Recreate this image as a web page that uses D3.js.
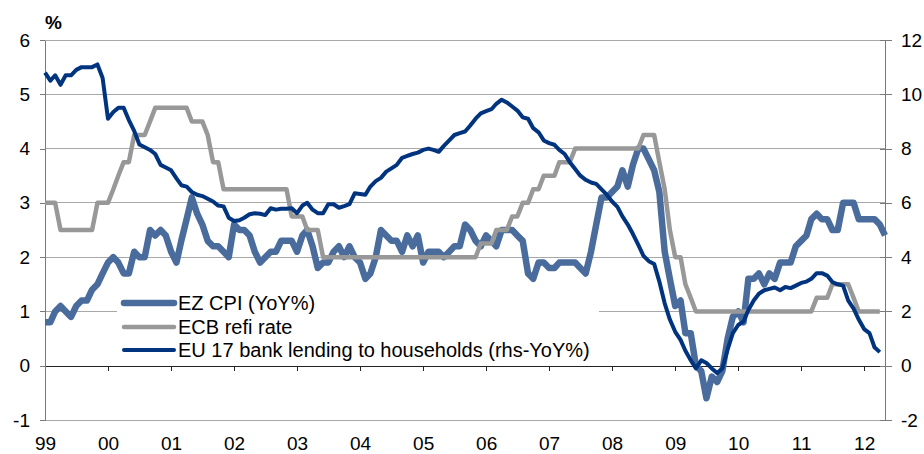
<!DOCTYPE html>
<html><head><meta charset="utf-8">
<script src="https://cdn.jsdelivr.net/npm/d3@7"></script>
<style>body{margin:0;background:#fff}svg{display:block;font-family:Arial,"Liberation Sans",sans-serif}</style>
</head><body><svg id="c" width="924" height="454"></svg>
<script>
// Monthly data, Jan 1999 onwards
const cpi = [
0.8,0.8,1.0,1.1,1.0,0.9,1.1,1.2,1.2,1.4,1.5,1.7,
1.9,2.0,1.9,1.7,1.7,2.1,2.0,2.0,2.5,2.4,2.5,2.4,
2.1,1.9,2.3,2.7,3.1,2.8,2.6,2.3,2.2,2.2,2.1,2.0,
2.6,2.5,2.5,2.4,2.1,1.9,2.0,2.1,2.1,2.3,2.3,2.3,
2.1,2.4,2.5,2.2,1.8,1.9,1.9,2.1,2.2,2.0,2.2,2.0,
1.9,1.6,1.7,2.0,2.5,2.4,2.3,2.3,2.1,2.4,2.2,2.4,
1.9,2.1,2.1,2.1,2.0,2.1,2.2,2.2,2.6,2.5,2.3,2.2,
2.4,2.3,2.2,2.5,2.5,2.5,2.4,2.3,1.7,1.6,1.9,1.9,
1.8,1.8,1.9,1.9,1.9,1.9,1.8,1.7,2.1,2.6,3.1,3.1,
3.2,3.3,3.6,3.3,3.7,4.0,4.0,3.8,3.6,3.2,2.1,1.6,
1.1,1.2,0.6,0.6,0.0,-0.1,-0.6,-0.2,-0.3,-0.1,0.5,0.9,
1.0,0.8,1.6,1.6,1.7,1.5,1.7,1.6,1.9,1.9,1.9,2.2,
2.3,2.4,2.7,2.8,2.7,2.7,2.5,2.5,3.0,3.0,3.0,2.7,
2.7,2.7,2.7,2.6,2.4];
const refi = [
3,3,3,2.5,2.5,2.5,2.5,2.5,2.5,2.5,3,3,
3,3.25,3.5,3.75,3.75,4.25,4.25,4.25,4.5,4.75,4.75,4.75,
4.75,4.75,4.75,4.75,4.5,4.5,4.5,4.25,3.75,3.75,3.25,3.25,
3.25,3.25,3.25,3.25,3.25,3.25,3.25,3.25,3.25,3.25,3.25,2.75,
2.75,2.75,2.5,2.5,2.5,2,2,2,2,2,2,2,
2,2,2,2,2,2,2,2,2,2,2,2,
2,2,2,2,2,2,2,2,2,2,2,2.25,
2.25,2.25,2.5,2.5,2.5,2.75,2.75,3,3,3.25,3.25,3.5,
3.5,3.5,3.75,3.75,3.75,4,4,4,4,4,4,4,
4,4,4,4,4,4,4.25,4.25,4.25,3.75,3.25,2.5,
2,2,1.5,1.25,1,1,1,1,1,1,1,1,
1,1,1,1,1,1,1,1,1,1,1,1,
1,1,1,1.25,1.25,1.25,1.5,1.5,1.5,1.5,1.25,1,
1,1,1,1];
const lending = [
10.8,10.5,10.7,10.35,10.7,10.7,10.9,11.0,11.0,11.0,11.1,10.6,
9.1,9.35,9.5,9.5,9.05,8.65,8.15,8.05,7.95,7.8,7.4,7.3,
7.2,6.9,6.65,6.6,6.4,6.3,6.25,6.15,6.05,5.9,5.87,5.45,
5.33,5.36,5.45,5.58,5.62,5.6,5.55,5.8,5.75,5.78,5.78,5.8,
5.62,5.9,6.0,5.75,5.62,5.62,5.95,5.95,5.82,5.88,5.95,6.35,
6.33,6.3,6.6,6.8,6.92,7.15,7.27,7.4,7.66,7.73,7.8,7.85,
7.95,8.0,7.95,7.88,8.1,8.3,8.5,8.57,8.63,8.85,9.1,9.3,
9.38,9.45,9.65,9.8,9.7,9.55,9.4,9.15,9.1,8.75,8.6,8.3,
8.2,8.14,7.95,7.8,7.5,7.25,7.0,6.85,6.75,6.7,6.5,6.3,
6.05,5.85,5.5,5.2,4.85,4.45,4.05,3.85,3.75,3.1,2.3,1.7,
1.25,0.95,0.55,0.2,-0.1,0.2,0.1,-0.1,-0.27,-0.1,0.6,1.2,
1.5,1.63,2.05,2.4,2.65,2.78,2.83,2.88,2.78,2.9,2.86,2.95,
3.05,3.1,3.2,3.41,3.41,3.32,3.08,3.0,2.95,2.4,2.1,1.7,
1.35,1.2,0.68,0.5];
const leftTicks = [-1,0,1,2,3,4,5,6];
const rightTicks = [-2,0,2,4,6,8,10,12];
const yearLabels = ["99","00","01","02","03","04","05","06","07","08","09","10","11","12"];
const seriesNames = ["EZ CPI (YoY%)","ECB refi rate","EU 17 bank lending to households (rhs-YoY%)"];
const colors = ["#4a6c9d","#989898","#00347f"];
const widths = [6.5,4.5,4];

const svg = d3.select("#c");
const L = 45, R = 885, T = 40, B = 420;
const FONT = "Arial, 'Liberation Sans', sans-serif";
const fmt = d => String(d);
const x = d3.scaleTime().domain([new Date(1999,0,1), new Date(2012,4,1)]).range([L,R]);
const yL = d3.scaleLinear().domain([-1,6]).range([B,T]);
const yR = d3.scaleLinear().domain([-2,12]).range([B,T]);
const dt = i => new Date(1999, i, 1);
const yearDates = yearLabels.map((_,i)=>new Date(1999+i,0,1));

// gridlines
svg.append("g").selectAll("line").data(leftTicks.filter(t=>t!==0)).join("line")
  .attr("x1",L).attr("x2",R).attr("y1",d=>yL(d)).attr("y2",d=>yL(d))
  .attr("stroke","#a8a8a8").attr("stroke-width",1).attr("shape-rendering","crispEdges");

// x axis at zero
const xa = svg.append("g").attr("transform",`translate(0,${yL(0)})`)
  .call(d3.axisBottom(x).tickValues(yearDates).tickSize(5).tickSizeOuter(0).tickFormat(""));
xa.select(".domain").attr("stroke","#222");
xa.selectAll(".tick line").attr("stroke","#222");
xa.attr("shape-rendering","crispEdges");

// x labels at bottom
const xl = svg.append("g").attr("transform",`translate(0,${B})`)
  .call(d3.axisBottom(x).tickValues(yearDates).tickSize(0).tickPadding(0).tickFormat((d,i)=>yearLabels[i]));
xl.select(".domain").remove();
xl.selectAll("text").attr("y",30).attr("dy",null).attr("font-size",19).attr("fill","#000").attr("font-family",FONT);

// left axis
const la = svg.append("g").attr("transform",`translate(${L},0)`)
  .call(d3.axisLeft(yL).tickValues(leftTicks).tickSize(5).tickSizeOuter(0).tickPadding(10).tickFormat(fmt));
la.select(".domain").attr("stroke","#7a7a7a");
la.selectAll(".tick line").attr("stroke","#7a7a7a");
la.selectAll("text").attr("font-size",19).attr("fill","#000").attr("font-family",FONT);
la.attr("shape-rendering","crispEdges");

// right axis
const ra = svg.append("g").attr("transform",`translate(${R},0)`)
  .call(d3.axisRight(yR).tickValues(rightTicks).tickSize(7).tickSizeOuter(0).tickPadding(9).tickFormat(fmt));
ra.select(".domain").attr("stroke","#7a7a7a");
ra.selectAll(".tick line").attr("x1",-5).attr("stroke","#7a7a7a");
ra.selectAll("text").attr("font-size",19).attr("fill","#000").attr("font-family",FONT);
ra.attr("shape-rendering","crispEdges");

// % label
svg.append("text").attr("x",45).attr("y",29).attr("font-size",19).attr("font-weight","bold").text("%");

// lines
const lineL = d3.line().x((d,i)=>x(dt(i))).y(d=>yL(d));
const lineR = d3.line().x((d,i)=>x(dt(i))).y(d=>yR(d));
svg.append("path").datum(cpi).attr("d",lineL).attr("fill","none").attr("stroke",colors[0]).attr("stroke-width",widths[0]).attr("stroke-linejoin","round");
svg.append("path").datum(refi).attr("d",lineL).attr("fill","none").attr("stroke",colors[1]).attr("stroke-width",widths[1]).attr("stroke-linejoin","round");
svg.append("path").datum(lending).attr("d",lineR).attr("fill","none").attr("stroke",colors[2]).attr("stroke-width",widths[2]).attr("stroke-linejoin","round");

// legend
const lg = svg.append("g");
lg.append("rect").attr("x",117).attr("y",291).attr("width",482).attr("height",70).attr("fill","#fff");
const rowsY = [303, 327, 350];
seriesNames.forEach((n,i)=>{
  lg.append("line").attr("x1",124).attr("x2",174).attr("y1",rowsY[i]).attr("y2",rowsY[i])
    .attr("stroke",colors[i]).attr("stroke-width",widths[i]).attr("stroke-linecap","round");
  lg.append("text").attr("x",178).attr("y",rowsY[i]).attr("dy","0.35em").attr("font-size",20).text(n);
});
</script></body></html>
